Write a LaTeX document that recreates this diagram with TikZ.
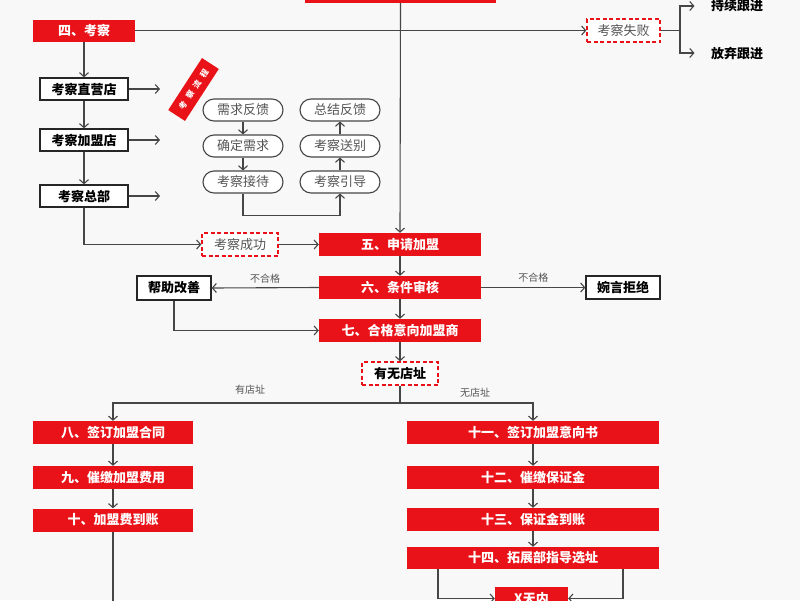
\documentclass[tikz,border=0pt]{standalone}
\usepackage{fontspec}
\setmainfont{Noto Sans CJK SC}
\usetikzlibrary{arrows.meta}
\definecolor{myred}{RGB}{232,18,24}
\definecolor{lincol}{RGB}{70,70,70}
\definecolor{txtgray}{RGB}{85,85,85}
\definecolor{bgcol}{RGB}{248,248,248}
\begin{document}
\begin{tikzpicture}[x=1pt,y=-1pt,
  arr/.style={draw=lincol,line width=1.1pt,-{Straight Barb[length=4pt,width=9pt,line width=1.1pt]}},
  ln/.style={draw=lincol,line width=1.1pt},
  redbox/.style={rectangle,fill=myred,text=white,inner sep=0pt,minimum height=23pt,font=\bfseries\fontsize{13}{15}\selectfont},
  blackbox/.style={rectangle,draw=black!85,line width=1.3pt,fill=white,text=black,inner sep=0pt,minimum height=23pt,font=\bfseries\fontsize{13}{15}\selectfont},
  dashbox/.style={rectangle,draw=myred,line width=1.4pt,dash pattern=on 4pt off 2.5pt,fill=white,inner sep=0pt,minimum height=23pt,minimum width=76pt,font=\fontsize{13}{15}\selectfont},
  pill/.style={rectangle,rounded corners=11pt,draw=lincol,line width=1.1pt,fill=white,text=txtgray,inner sep=0pt,minimum width=80pt,minimum height=22pt,font=\fontsize{13}{15}\selectfont},
  lab/.style={text=txtgray,font=\fontsize{10}{12}\selectfont},
  plain/.style={text=black,font=\bfseries\fontsize{13}{15}\selectfont}]
\useasboundingbox (0,0) rectangle (800,600);
\fill[bgcol] (0,0) rectangle (800,600);

% top
\node[redbox,minimum width=191pt,minimum height=26pt] (top) at (400.5,-10) {};
\node[redbox,minimum width=102pt,minimum height=22pt] (si) at (84,30.5) {四、考察};
\node[dashbox,minimum width=73pt,text=txtgray] (shibai) at (623.5,30.5) {考察失败};
\node[plain] (chixu) at (737,6) {持续跟进};
\node[plain] (fangqi) at (737,53) {放弃跟进};
\coordinate (br) at (680,30.5);

% inspection boxes
\node[blackbox,minimum width=88pt,minimum height=22pt] (zy) at (84,89) {考察直营店};
\node[blackbox,minimum width=88pt,minimum height=22pt] (jm) at (84,140) {考察加盟店};
\node[blackbox,minimum width=88pt,minimum height=22pt] (zb) at (84,196) {考察总部};
\coordinate (a1) at (160,89);
\coordinate (a2) at (160,140);
\coordinate (a3) at (160,196);

\node[rectangle,fill=myred,text=white,rotate=57,minimum width=62pt,minimum height=20pt,inner sep=0pt,font=\bfseries\fontsize{8}{9}\selectfont] (lbl) at (193.5,89.5) {考\hspace{5pt}察\hspace{5pt}流\hspace{5pt}程};

% process pills
\node[pill] (p1) at (243,110) {需求反馈};
\node[pill] (p2) at (243,146) {确定需求};
\node[pill] (p3) at (243,182) {考察接待};
\node[pill] (q1) at (340,110) {总结反馈};
\node[pill] (q2) at (340,146) {考察送别};
\node[pill] (q3) at (340,182) {考察引导};

% main column
\node[dashbox,text=txtgray] (cg) at (240,244.5) {考察成功};
\node[redbox,minimum width=162pt] (wu) at (400,244.5) {五、申请加盟};
\node[redbox,minimum width=162pt] (liu) at (400,287.5) {六、条件审核};
\node[redbox,minimum width=162pt] (qi) at (400,330.5) {七、合格意向加盟商};
\node[dashbox,text=black,font=\bfseries\fontsize{13}{15}\selectfont] (yw) at (400,373.5) {有无店址};
\node[blackbox,minimum width=74pt,minimum height=24pt] (bz) at (174,288) {帮助改善};
\node[blackbox,minimum width=74pt] (wy) at (623,287.5) {婉言拒绝};
\coordinate (j) at (400,403);

% left branch
\node[redbox,minimum width=160pt] (ba) at (113,432.5) {八、签订加盟合同};
\node[redbox,minimum width=160pt] (jiu) at (113,477.5) {九、催缴加盟费用};
\node[redbox,minimum width=160pt] (shi) at (113,520) {十、加盟费到账};
\coordinate (lend) at (113,605);

% right branch
\node[redbox,minimum width=252pt] (s11) at (533,432.5) {十一、签订加盟意向书};
\node[redbox,minimum width=252pt] (s12) at (533,477.5) {十二、催缴保证金};
\node[redbox,minimum width=252pt] (s13) at (533,519.5) {十三、保证金到账};
\node[redbox,minimum width=252pt,minimum height=22pt] (s14) at (533,558) {十四、拓展部指导选址};
\node[redbox,minimum width=73pt,minimum height=23pt] (xt) at (531.5,598.5) {X天内};

% connectors
\draw[arr] (top.south) -- (wu.north);
\draw[arr] (si.east) -- (shibai.west);
\draw[ln] (shibai.east) -- (br);
\draw[arr] (br) |- ([xshift=-13pt]chixu.west);
\draw[arr] (br) |- ([xshift=-13pt]fangqi.west);
\draw[arr] (si.south) -- (zy.north);
\draw[arr] (zy.south) -- (jm.north);
\draw[arr] (jm.south) -- (zb.north);
\draw[arr] (zy.east) -- (a1);
\draw[arr] (jm.east) -- (a2);
\draw[arr] (zb.east) -- (a3);
\draw[arr] (p1.south) -- (p2.north);
\draw[arr] (p2.south) -- (p3.north);
\draw[arr] (p3.south) -- ++(0,22) -| (q3.south);
\draw[arr] (q3.north) -- (q2.south);
\draw[arr] (q2.north) -- (q1.south);
\draw[arr] (zb.south) |- (cg.west);
\draw[arr] (cg.east) -- (wu.west);
\draw[arr] (wu.south) -- (liu.north);
\draw[arr] (liu.south) -- (qi.north);
\draw[arr] (qi.south) -- (yw.north);
\draw[arr] (liu.west) -- node[lab,above=1pt] {不合格} (bz.east);
\draw[arr] (liu.east) -- node[lab,above=1pt] {不合格} (wy.west);
\draw[arr] (bz.south) |- (qi.west);
\draw[ln] (yw.south) -- (j);
\draw[arr] (j) -| (ba.north);
\draw[arr] (j) -| (s11.north);
\node[lab] (you) at (250,390) {有店址};
\node[lab] (wu2) at (475,393) {无店址};
\draw[arr] (ba.south) -- (jiu.north);
\draw[arr] (jiu.south) -- (shi.north);
\draw[ln] (shi.south) -- (lend);
\draw[arr] (s11.south) -- (s12.north);
\draw[arr] (s12.south) -- (s13.north);
\draw[arr] (s13.south) -- (s14.north);
\draw[arr] ([xshift=-95pt]s14.south) |- (xt.west);
\draw[arr] ([xshift=90pt]s14.south) |- (xt.east);
\end{tikzpicture}
\end{document}
